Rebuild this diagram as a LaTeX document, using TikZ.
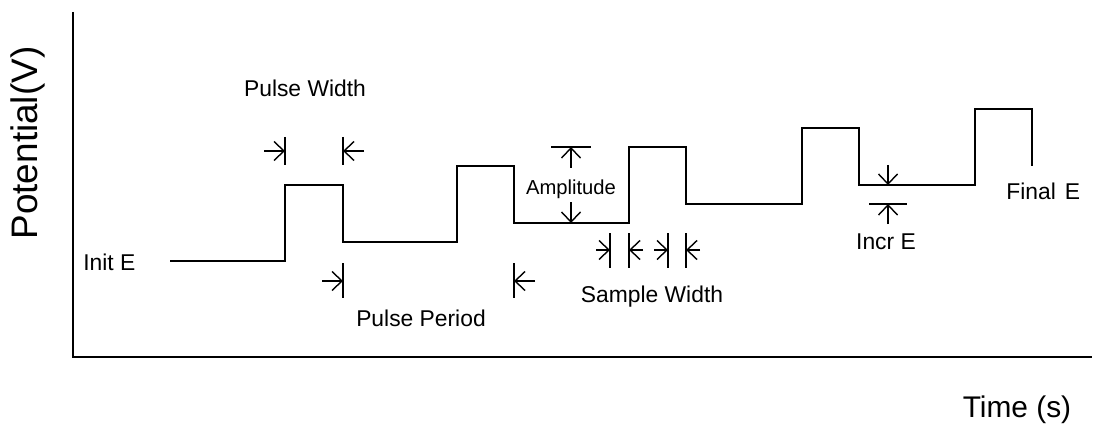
\documentclass[tikz,border=0pt]{standalone}
\usepackage{fontspec}
\setmainfont{Liberation Sans}
\usetikzlibrary{arrows.meta}
\tikzset{
    pulse diagram/.style = {x=0.02cm, y=-0.02cm,
                            >={Straight Barb[length=2mm, width=3.8mm]}},
    axis/.style          = {line width=0.9pt},
    wave/.style          = {line width=1pt, line join=miter},
    tick/.style          = {line width=0.8pt},
    dim/.style           = {->, line width=0.8pt},
    lbl/.style           = {font=\fontsize{13}{15}\selectfont, inner sep=0pt},
    small lbl/.style     = {font=\fontsize{11.5}{13}\selectfont, inner sep=0pt},
    axis lbl/.style      = {font=\fontsize{17}{20}\selectfont, inner sep=0pt}
}
\begin{document}
\begin{tikzpicture}[pulse diagram]
\useasboundingbox (0,0) rectangle (1094,432);

% ================= Axes =================
\coordinate (y top) at (73,12);
\coordinate (origin) at (73,357);
\coordinate (x end) at (1092,357);
\draw[axis] (y top) -- (origin) -- (x end);
\node[axis lbl, rotate=90, font=\fontsize{21}{24}\selectfont]
    (potential) at (28,143) {Potential(V)};
\node[axis lbl] (time) at (1017,410) {Time (s)};

% ================= Staircase waveform =================
\coordinate (init) at (170,261);
\coordinate (final) at (1032,166);
\draw[wave] (init) -- (285,261) -- (285,185) -- (343,185) -- (343,242)
    -- (457,242) -- (457,166) -- (514,166) -- (514,223) -- (629,223)
    -- (629,147) -- (686,147) -- (686,204) -- (802,204) -- (802,128)
    -- (859,128) -- (859,185) -- (975,185) -- (975,109) -- (1032,109)
    -- (final);
\node[lbl, anchor=west] (init label) at (83,262) {Init E};
\node[lbl, anchor=west] (final label) at (1006,191) {Final\hspace{0.4em}E};

% ================= Pulse width =================
\draw[tick] (285,137) -- (285,165);
\draw[tick] (343,137) -- (343,165);
\draw[dim] (264,151) -- (285,151);
\draw[dim] (364,151) -- (343,151);
\node[lbl] (width label) at (305,88) {Pulse Width};

% ================= Pulse period =================
\draw[tick] (343,263) -- (343,298);
\draw[tick] (514,263) -- (514,298);
\draw[dim] (322,281) -- (343,281);
\draw[dim] (535,281) -- (514,281);
\node[lbl] (period label) at (421,318) {Pulse Period};

% ================= Amplitude =================
\draw[tick] (551,147) -- (591,147);
\draw[dim] (571,168) -- (571,147);
\draw[dim] (571,202) -- (571,223);
\node[small lbl] (amp label) at (571,189) {Amplitude};

% ================= Sample width =================
\foreach \x in {610,629,668,686}
    \draw[tick] (\x,233) -- (\x,268);
\draw[dim] (596,250) -- (610,250);
\draw[dim] (643,250) -- (629,250);
\draw[dim] (654,250) -- (668,250);
\draw[dim] (700,250) -- (686,250);
\node[lbl] (sample label) at (652,297) {Sample Width};

% ================= Potential increment =================
\draw[dim] (888,165) -- (888,185);
\draw[tick] (869,204) -- (907,204);
\draw[dim] (888,224) -- (888,204);
\node[lbl] (incr label) at (886,242) {Incr E};

\end{tikzpicture}
\end{document}
